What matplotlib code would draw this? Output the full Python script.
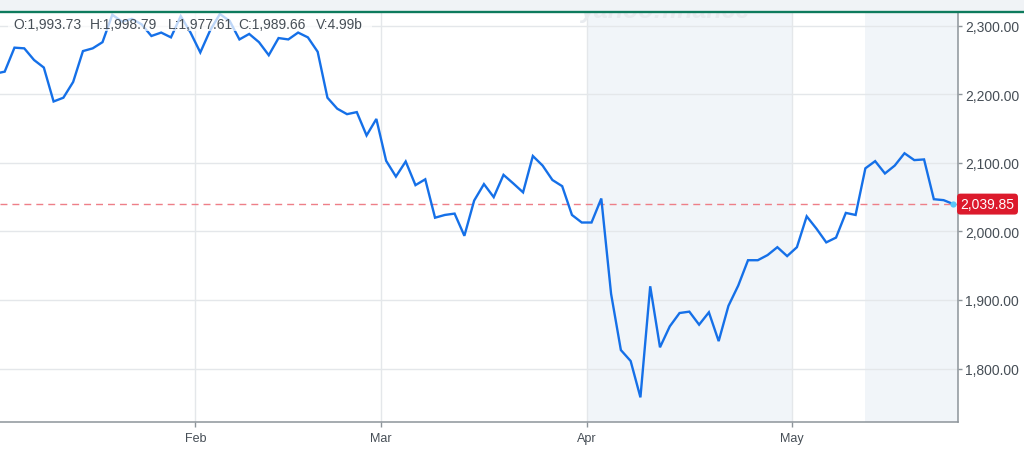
import numpy as np
import matplotlib
matplotlib.use("Agg")
import matplotlib.pyplot as plt
import matplotlib.transforms as mtransforms
from matplotlib.patches import Rectangle
from matplotlib.lines import Line2D

# ---------------- data ----------------
# daily closes, one per trading session (Dec 31 .. May 23)
closes = [
    2230, 2233, 2268, 2267, 2250, 2239, 2189.5, 2195, 2218, 2263,
    2267, 2276, 2316, 2306, 2310, 2302, 2285, 2290, 2283, 2314,
    2290, 2261, 2293, 2317, 2307, 2280, 2288, 2276, 2257, 2282,
    2280, 2290, 2283, 2262, 2195, 2179, 2171, 2174, 2140, 2164,
    2103, 2080, 2102, 2067.5, 2076, 2020, 2024, 2026, 1993.6, 2045,
    2069, 2050, 2082.5, 2070, 2057, 2110, 2096, 2075, 2066, 2024,
    2013, 2013, 2048, 1909, 1827, 1811, 1758, 1920, 1831, 1861.5,
    1881, 1883, 1864, 1882, 1840, 1891.5, 1921, 1958, 1958, 1965.5,
    1977, 1964, 1977, 2022, 2004, 1984, 1991, 2027, 2024, 2092,
    2102.5, 2084.5, 2096, 2114, 2104, 2105, 2047, 2045.6, 2039.85,
]
first_session = -1                      # index of the first close (Dec 31)
month_labels = ["Feb", "Mar", "Apr", "May"]
month_first_session = [20, 39, 60, 81]  # session index of each month's first day
yticks = [1800, 1900, 2000, 2100, 2200, 2300]
last_price = 2039.85
ohlc_labels = ["O:1,993.73", "H:1,998.79", "L:1,977.61", "C:1,989.66", "V:4.99b"]
shade_spans = [(59.5, 80.5), (88.0, 98.0)]

# ---------------- figure ----------------
W, H = 1024, 464
fig = plt.figure(figsize=(W / 100, H / 100), dpi=100)
fig.patch.set_facecolor("white")

ax = fig.add_axes([0, 1 - 422.7 / H, 958 / W, (422.7 - 13) / H])
ax.set_facecolor("white")

x = np.arange(len(closes)) + first_session

for a, b in shade_spans:
    ax.axvspan(a, b, color="#f1f5f9", lw=0, zorder=0)

ax.plot(x, closes, color="#1570e8", lw=1.7, zorder=3, solid_joinstyle="miter")
ax.plot([x[-1]], [closes[-1]], "o", color="#5ac8fa", ms=4.5, zorder=4, mec="none")

ax.axhline(last_price, color="#ee7f88", lw=1.0, dashes=(5, 3.6), zorder=2)

ax.set_xlim(-0.48, 97.47)
ax.set_ylim(1722.5, 2320)

ax.set_xticks([m - 0.5 for m in month_first_session])
ax.set_xticklabels(month_labels)
ax.set_yticks(yticks)
ax.set_yticklabels([f"{v:,.2f}" for v in yticks])
ax.yaxis.tick_right()

ax.grid(True, color="#e4e7ea", lw=1, zorder=1)
ax.set_axisbelow(True)

for s in ["left", "top"]:
    ax.spines[s].set_visible(False)
for s in ["right", "bottom"]:
    ax.spines[s].set_color("#8d949a")
    ax.spines[s].set_linewidth(1.1)

ax.tick_params(axis="y", right=True, left=False, length=3, width=1, color="#8d949a",
               pad=2, labelsize=10, labelcolor="#464e56")
ax.tick_params(axis="x", length=3.5, width=1, color="#8d949a", pad=4,
               labelsize=9, labelcolor="#464e56")
for lab in ax.get_yticklabels():
    lab.set_family("Liberation Sans")
for lab in ax.get_xticklabels():
    lab.set_family("Liberation Sans")

# watermark (mostly cut off at top)
ax.text(580 / W, 1 - 18 / H, "yahoo!finance", transform=fig.transFigure,
        fontsize=18, fontweight="bold", style="italic", color="#e8ebef",
        family="Liberation Sans", va="baseline", ha="left", clip_on=True, zorder=1)

# top band and green rule
fig.add_artist(Rectangle((0, 1 - 11.5 / H), 1, 11.5 / H, transform=fig.transFigure,
                         facecolor="#f0f3f6", edgecolor="none", zorder=5))
fig.add_artist(Line2D([0, 1], [1 - 12.6 / H] * 2, transform=fig.transFigure,
                      color="#0e7b5d", lw=1.7, zorder=6))

# translucent box behind OHLC text
fig.add_artist(Rectangle((8 / W, 1 - 31.5 / H), 364 / W, 18 / H, transform=fig.transFigure,
                         facecolor="white", alpha=0.72, edgecolor="none", zorder=4))
ohlc_x = [13, 90, 168, 238, 316]
for px, s in zip(ohlc_x, ohlc_labels):
    fig.text(px / W, 1 - 29 / H, s, fontsize=10, color="#464e56",
             family="Liberation Sans", va="baseline", ha="left", zorder=7)

# last-price tag
trans = mtransforms.blended_transform_factory(fig.transFigure, ax.transData)
fig.text(987.5 / W, last_price, f"{last_price:,.2f}", transform=trans,
         ha="center", va="center", fontsize=10, color="white", family="Liberation Sans",
         bbox=dict(boxstyle="round,pad=0.25,rounding_size=0.25", fc="#dc1a2c", ec="none"),
         zorder=8)

fig.savefig("out.png", dpi=100)
